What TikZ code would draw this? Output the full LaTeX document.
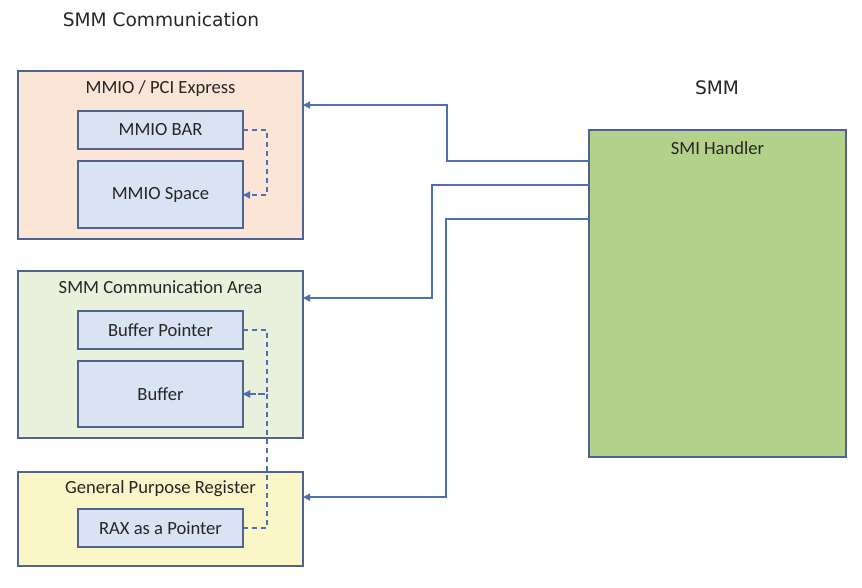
\documentclass[tikz,border=0pt]{standalone}
\usepackage{fontspec}
\setmainfont{Carlito}
\newfontfamily\verd{DejaVu Sans}
\usetikzlibrary{arrows.meta}
\definecolor{bordc}{HTML}{50648F}
\definecolor{linec}{HTML}{4E6FB3}
\definecolor{peach}{HTML}{FBE5D6}
\definecolor{palegreen}{HTML}{E9F0DC}
\definecolor{paleyellow}{HTML}{FBF6C8}
\definecolor{innerblue}{HTML}{DAE3F3}
\definecolor{smigreen}{HTML}{B4D18B}
\definecolor{txtc}{HTML}{262626}
\begin{document}
\begin{tikzpicture}[x=1pt,y=-1pt,
  every node/.style={text=txtc,font=\fontsize{18.6}{22}\selectfont},
  outerbox/.style={draw=bordc,line width=1.3pt,inner sep=0pt,outer sep=0pt,minimum width=285pt},
  innerbox/.style={draw=bordc,line width=1.3pt,fill=innerblue,inner sep=0pt,outer sep=0pt,minimum width=165pt},
  conn/.style={draw=linec,line width=1.4pt,-{Triangle[length=7pt,width=7pt]}},
  dashconn/.style={draw=linec,line width=1.3pt,dash pattern=on 5pt off 4pt,-{Triangle[length=7pt,width=7pt]}},
  plainconn/.style={draw=linec,line width=1.4pt}]
\useasboundingbox (0,0) rectangle (862,587);
% titles
\node[font=\verd\fontsize{18.6}{22}\selectfont] (title) at (161,20) {SMM Communication};
\node[font=\verd\fontsize{18.6}{22}\selectfont] (smmtitle) at (717,88) {SMM};
% box 1
\node[outerbox,fill=peach,minimum height=168pt] (b1) at (160.5,155) {};
\node (b1t) at (160.5,89) {MMIO / PCI Express};
\node[innerbox,minimum height=38pt] (bar) at (160.5,130) {MMIO BAR};
\node[innerbox,minimum height=67pt] (space) at (160.5,194.5) {MMIO Space};
% box 2
\node[outerbox,fill=palegreen,minimum height=167pt] (b2) at (160.5,354.5) {};
\node (b2t) at (160.5,287) {SMM Communication Area};
\node[innerbox,minimum height=38pt] (bp) at (160.5,330) {Buffer Pointer};
\node[innerbox,minimum height=66pt] (buf) at (160.5,394) {Buffer};
% box 3
\node[outerbox,fill=paleyellow,minimum height=94pt] (b3) at (160.5,519) {};
\node (b3t) at (160.5,489) {General Purpose Register};
\node[innerbox,minimum height=38pt] (rax) at (160.5,528) {RAX as a Pointer};
% SMI handler
\node[draw=bordc,line width=1.3pt,fill=smigreen,inner sep=0pt,outer sep=0pt,minimum width=257pt,minimum height=327pt] (smi) at (717.5,293.5) {};
\node (smit) at (717.5,148) {SMI Handler};
% connectors
\coordinate (j1) at (447,105);
\coordinate (j2) at (432,298);
\coordinate (j3) at (446,497);
\draw[conn] (smi.west |- 0,161) -| (j1) -- (b1.east |- j1);
\draw[conn] (smi.west |- 0,185) -| (j2) -- (b2.east |- j2);
\draw[conn] (smi.west |- 0,219) -| (j3) -- (b3.east |- j3);
% dashed pointers
\coordinate (d1) at (267,195);
\coordinate (d2) at (267,394);
\draw[dashconn] (bar.east) -| (d1) -- (space.east |- d1);
\draw[dashconn] (bp.east) -| (d2) -- (buf.east);
\draw[dashconn] (rax.east) -| (d2) -- (buf.east);
\end{tikzpicture}
\end{document}
